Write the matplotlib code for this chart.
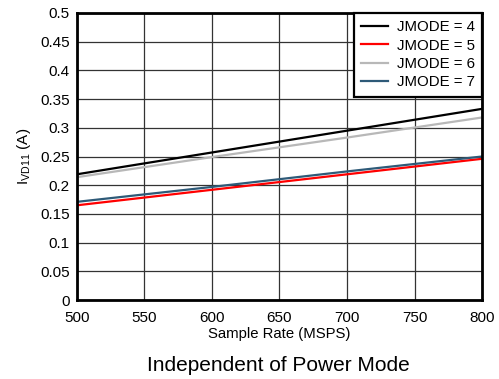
import matplotlib
matplotlib.use("Agg")
import matplotlib.pyplot as plt

plt.rcParams["font.family"] = ["Liberation Sans", "DejaVu Sans"]

sample_rate = [500, 600, 700, 800]
jmode4 = [0.219, 0.257, 0.295, 0.333]
jmode5 = [0.165, 0.192, 0.219, 0.246]
jmode6 = [0.214, 0.249, 0.283, 0.318]
jmode7 = [0.171, 0.197, 0.224, 0.250]

fig = plt.figure(figsize=(4.99, 3.79), dpi=100)
ax = fig.add_axes([0.154, 0.2084, 0.812, 0.7573])

ax.plot(sample_rate, jmode4, color="black", lw=1.6, label="JMODE = 4")
ax.plot(sample_rate, jmode5, color="#ff0000", lw=1.6, label="JMODE = 5")
ax.plot(sample_rate, jmode6, color="#b8b8b8", lw=1.6, label="JMODE = 6")
ax.plot(sample_rate, jmode7, color="#2e5a78", lw=1.6, label="JMODE = 7")

ax.set_xlim(500, 800)
ax.set_ylim(0, 0.5)
ax.set_xticks(range(500, 801, 50))
ax.set_yticks([i * 0.05 for i in range(11)])
ax.set_yticklabels(["0", "0.05", "0.1", "0.15", "0.2", "0.25", "0.3",
                    "0.35", "0.4", "0.45", "0.5"])
ax.tick_params(length=0, labelsize=11)
ax.tick_params(axis="x", pad=8)
ax.tick_params(axis="y", pad=5)
ax.grid(True, color="#333333", lw=0.9)
ax.set_axisbelow(True)
for s in ax.spines.values():
    s.set_linewidth(2)
    s.set_color("black")

ax.set_xlabel("Sample Rate (MSPS)", fontsize=10.7, labelpad=1)
ax.set_ylabel("I$_{\\mathregular{VD11}}$ (A)", fontsize=11, labelpad=5)

leg = ax.legend(loc="upper right", fontsize=10.8, frameon=True, fancybox=False,
                borderaxespad=0, handlelength=1.8, labelspacing=0.28,
                borderpad=0.5, handletextpad=0.55)
leg.get_frame().set_edgecolor("black")
leg.get_frame().set_linewidth(1.6)
leg.get_frame().set_alpha(1)

fig.text(0.557, 0.035, "Independent of Power Mode", ha="center", va="center", fontsize=15)

fig.savefig("out.png", dpi=100)
